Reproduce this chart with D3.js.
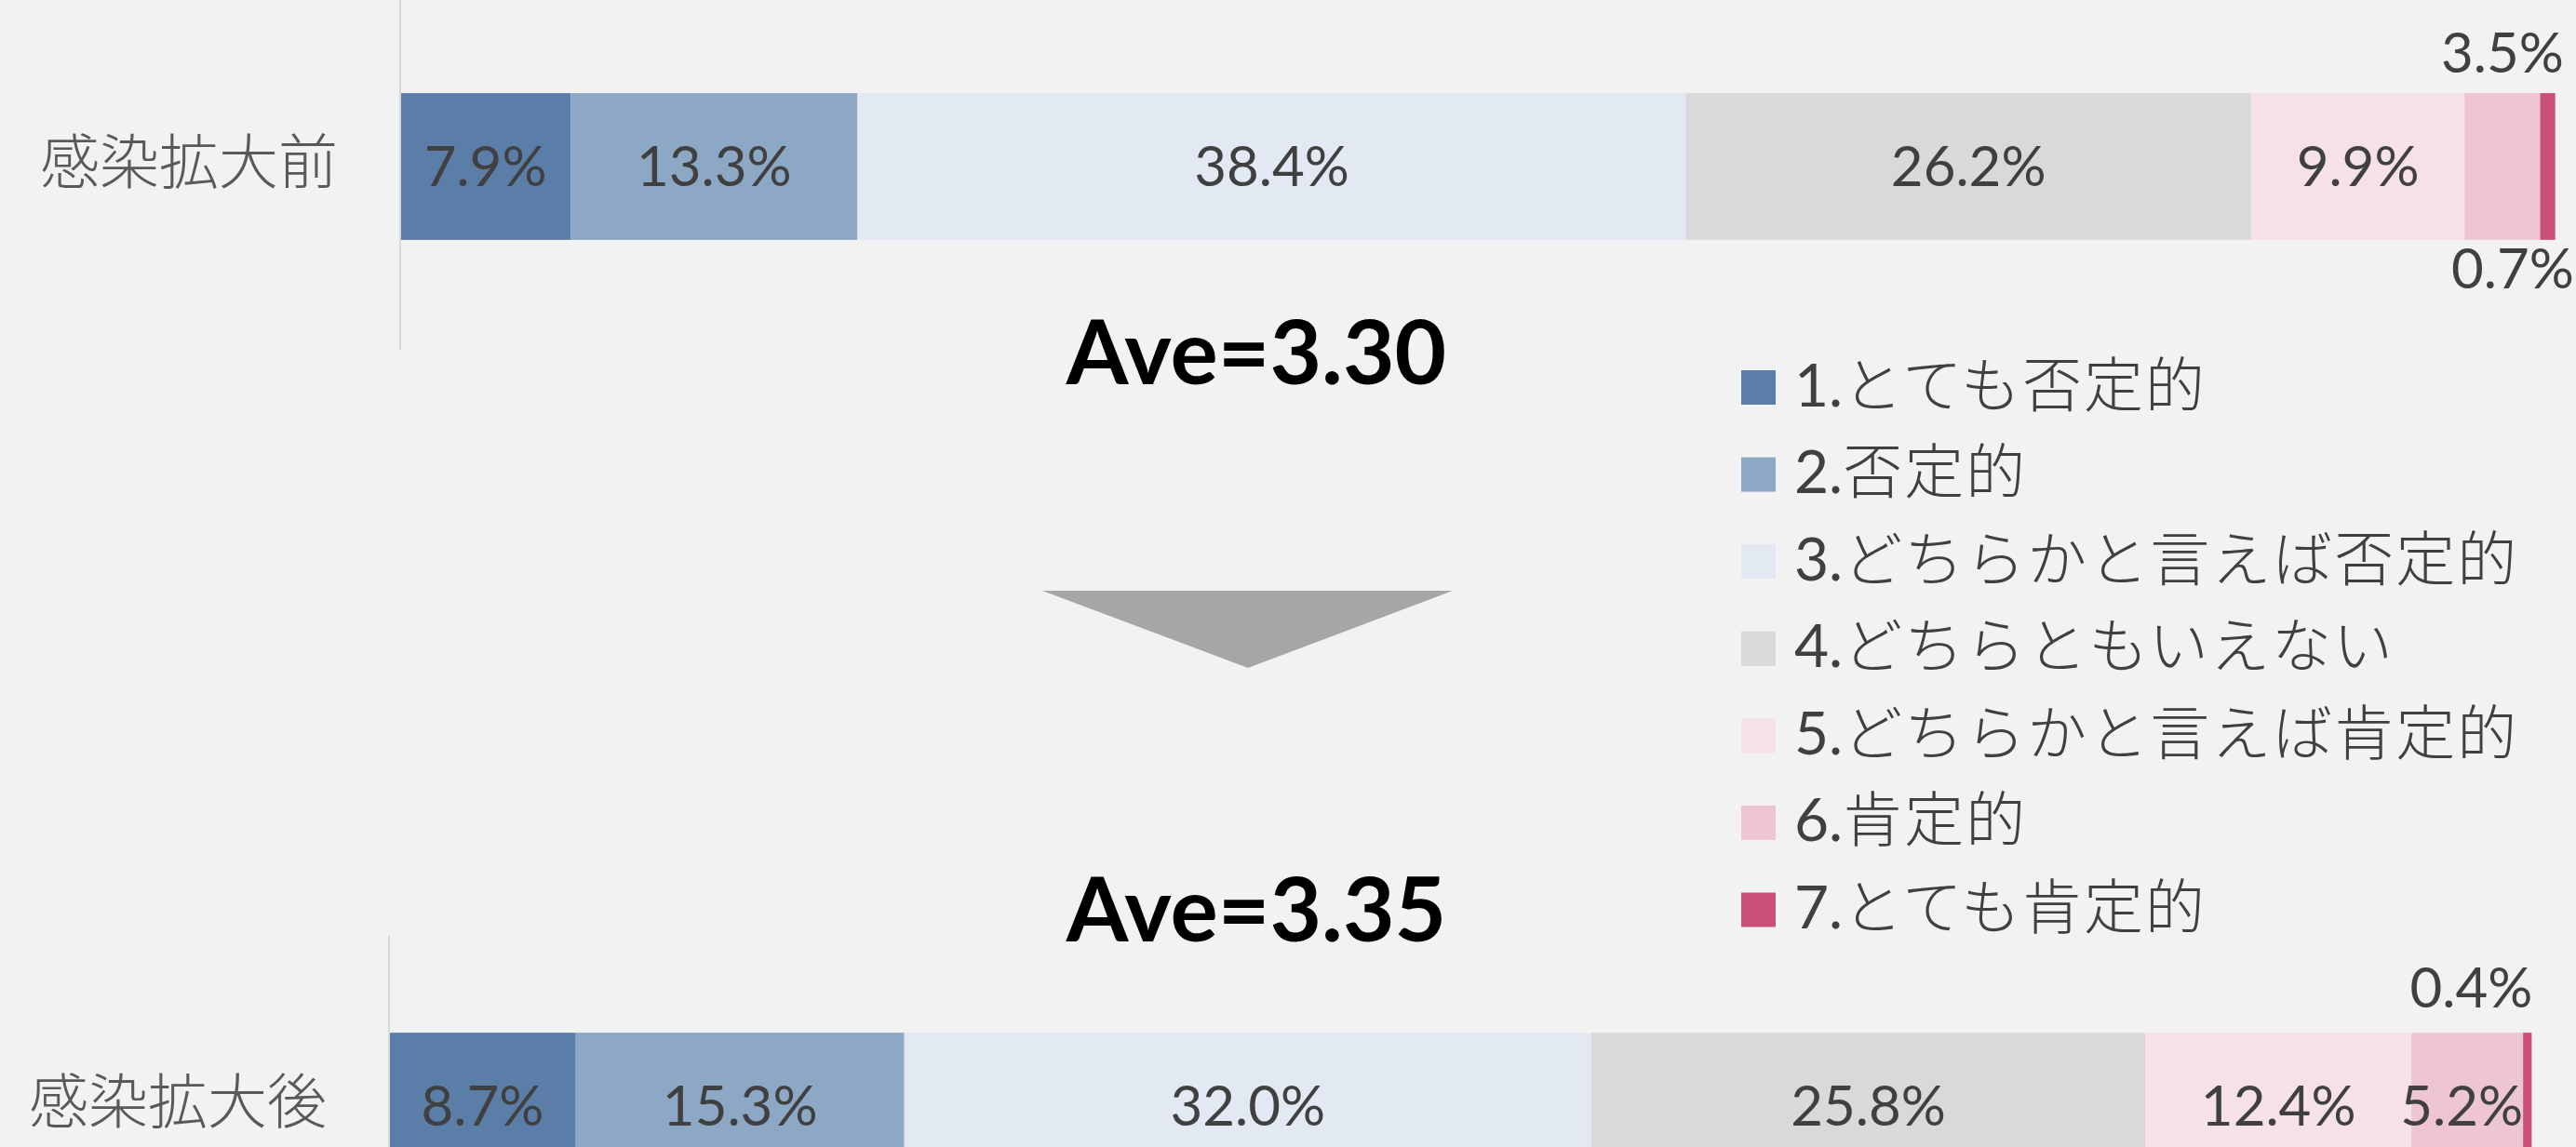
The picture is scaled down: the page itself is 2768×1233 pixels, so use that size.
<!DOCTYPE html>
<html>
<head>
<meta charset="utf-8">
<script src="https://cdn.jsdelivr.net/npm/d3@7"></script>
<style>
  html, body { margin: 0; padding: 0; background: #f2f2f2; }
  svg { display: block; }
</style>
</head>
<body>
<div id="chart"></div>
<script>
// Data
const levels = ["1.とても否定的", "2.否定的", "3.どちらかと言えば否定的", "4.どちらともいえない",
                "5.どちらかと言えば肯定的", "6.肯定的", "7.とても肯定的"];
const before = [7.9, 13.3, 38.4, 26.2, 9.9, 3.5, 0.7];
const after = [8.7, 15.3, 32.0, 25.8, 12.4, 5.2, 0.4];
const rowNames = ["感染拡大前", "感染拡大後"];
const averages = ["Ave=3.30", "Ave=3.35"];

const colors = ["#5b7ea8", "#8ca8c5", "#e3e9f2", "#d9d9d9", "#f7e1e8", "#eec6d3", "#cb5077"];

const W = 2768, H = 1233;
const numFont = "Lato, 'Noto Sans CJK JP', sans-serif";
const jpFont = "'Noto Sans CJK JP', sans-serif";

let svg = d3.select("#chart").append("svg")
  .attr("width", W)
  .attr("height", H);

svg.append("rect").attr("width", W).attr("height", H).attr("fill", "#f2f2f2");

// stack one row of percentages into [start, end] pairs
function stackRow(vals) {
  let acc = 0;
  return vals.map((v, i) => {
    let s = acc;
    acc += v;
    return {i: i, v: v, x0: s, x1: acc};
  });
}

// the two bar panels, each with its own plot area like the original slide
let panels = [
  {name: rowNames[0], vals: before, left: 430, right: 2748, yr: [-5, 363], axis: [0, 376]},
  {name: rowNames[1], vals: after, left: 418, right: 2725, yr: [1005, 1373], axis: [1005, H]}
];

panels.forEach((p, pi) => {
  let x = d3.scaleLinear().domain([0, 100]).range([p.left, p.right]);
  let y = d3.scaleBand().domain([p.name]).range(p.yr).padding(0.4);
  let g = svg.append("g");
  let segs = stackRow(p.vals);

  g.selectAll("rect.seg")
    .data(segs)
    .enter()
    .append("rect")
    .attr("class", "seg")
    .attr("x", d => x(d.x0))
    .attr("width", d => x(d.x1) - x(d.x0))
    .attr("y", y(p.name))
    .attr("height", y.bandwidth())
    .attr("fill", d => colors[d.i]);

  // category axis line
  g.append("line")
    .attr("x1", p.left).attr("x2", p.left)
    .attr("y1", p.axis[0]).attr("y2", p.axis[1])
    .attr("stroke", "#d9d9d9")
    .attr("stroke-width", 2);

  g.append("text")
    .attr("x", p.left - 67)
    .attr("y", y(p.name) + y.bandwidth() / 2 + 18)
    .attr("text-anchor", "end")
    .attr("font-family", jpFont)
    .attr("font-weight", 300)
    .attr("font-size", 64)
    .attr("fill", "#595959")
    .text(p.name);

  let cy = y(p.name) + y.bandwidth() / 2;
  let top = y(p.name), bot = y(p.name) + y.bandwidth();

  g.selectAll("text.val")
    .data(segs)
    .enter()
    .append("text")
    .attr("class", "val")
    .attr("font-family", numFont)
    .attr("font-size", 60)
    .attr("fill", "#404040")
    .attr("text-anchor", "middle")
    .attr("x", d => {
      let c = (x(d.x0) + x(d.x1)) / 2;
      if (pi == 0 && d.i == 6) return W - 68;
      if (pi == 1 && d.i == 6) return x(d.x1) - 65;
      if (pi == 1 && d.i == 5) return c - 6;
      return c;
    })
    .attr("y", d => {
      if (pi == 0 && d.i == 5) return top - 22;
      if (pi == 0 && d.i == 6) return bot + 52;
      if (pi == 1 && d.i == 6) return top - 27;
      return cy + 21;
    })
    .text(d => d.v.toFixed(1) + "%");
});

// average annotations and arrow
svg.selectAll("text.ave")
  .data(averages)
  .enter()
  .append("text")
  .attr("class", "ave")
  .attr("x", 1350)
  .attr("y", (d, i) => i == 0 ? 413 : 1012)
  .attr("text-anchor", "middle")
  .attr("font-family", numFont)
  .attr("font-weight", 700)
  .attr("font-size", 96)
  .attr("fill", "#000")
  .text(d => d);

svg.append("path")
  .attr("d", "M1120,635L1561,635L1341,718Z")
  .attr("fill", "#a6a6a6");

// legend
let ly = d3.scalePoint().domain(levels).range([416.5, 978]);
let leg = svg.append("g").selectAll("g")
  .data(levels)
  .enter()
  .append("g")
  .attr("transform", d => "translate(1871," + ly(d) + ")");

leg.append("rect")
  .attr("x", 0).attr("y", -18.5)
  .attr("width", 37).attr("height", 37)
  .attr("fill", (d, i) => colors[i]);

let lt = leg.append("text")
  .attr("x", 57)
  .attr("y", 20)
  .attr("font-family", numFont)
  .attr("font-size", 64)
  .attr("fill", "#404040");

lt.append("tspan")
  .attr("font-weight", 400)
  .text(d => d.slice(0, d.indexOf(".") + 1));

lt.append("tspan")
  .attr("font-weight", 300)
  .attr("letter-spacing", 2)
  .text(d => d.slice(d.indexOf(".") + 1));
</script>
</body>
</html>
